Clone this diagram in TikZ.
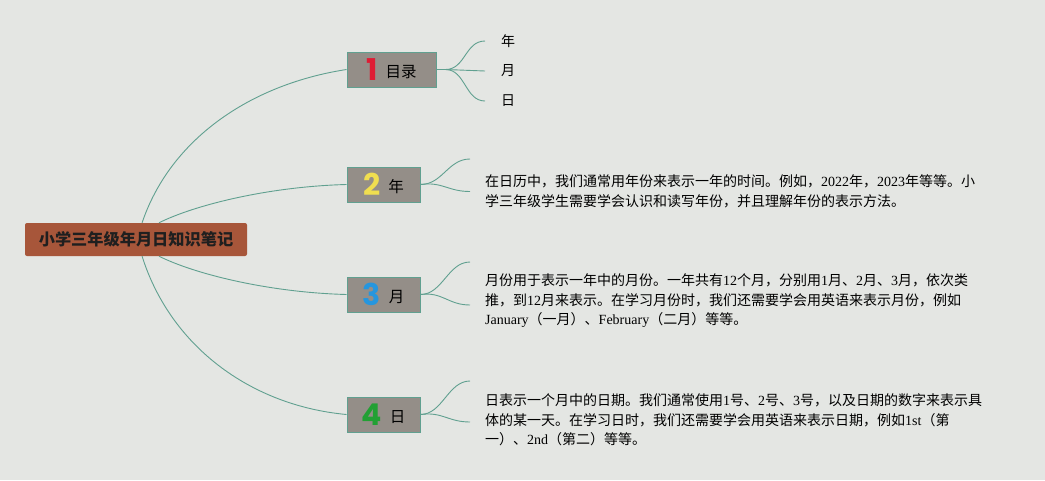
\documentclass[tikz,border=0pt]{standalone}
\usepackage{fontspec}
\setmainfont{Noto Sans CJK SC}
\newfontfamily\latfont{Liberation Serif}
\newfontfamily\numfont{Poppins}
\definecolor{PageColor}{RGB}{228,230,227}
\definecolor{RootColor}{RGB}{167,86,58}
\definecolor{TopicColor}{RGB}{148,142,136}
\definecolor{LinkColor}{RGB}{96,160,144}
\definecolor{OneColor}{RGB}{222,28,52}
\definecolor{TwoColor}{RGB}{240,222,80}
\definecolor{ThreeColor}{RGB}{38,150,222}
\definecolor{FourColor}{RGB}{34,160,52}
\usetikzlibrary{positioning}
\newcommand{\numtag}[2]{\raisebox{-1.5pt}{\numfont\bfseries\fontsize{30}{30}\selectfont\color{#1}#2}}
\newcommand{\toptext}[1]{\raisebox{1.5pt}{#1}}

\begin{document}
\begin{tikzpicture}[x=1pt,y=-1pt,
    rootbox/.style={fill=RootColor, rounded corners=2pt, minimum width=222pt, minimum height=33pt,
      inner sep=0pt, text=black!88, font=\fontsize{16.2}{16.2}\selectfont\bfseries},
    topicbox/.style={draw=LinkColor, fill=TopicColor, line width=1pt, minimum width=73pt,
      minimum height=35pt, inner sep=0pt, font=\fontsize{15.5}{15.5}\selectfont},
    link/.style={draw=LinkColor, line width=0.9pt},
    leaf/.style={anchor=west, inner xsep=16pt, inner ysep=2pt, font=\fontsize{14}{14}\selectfont},
    note/.style={anchor=west, align=left, inner xsep=15pt, inner ysep=0pt,
      font=\fontsize{14}{19.5}\selectfont}]
  \fill[PageColor] (0,0) rectangle (1045,480);

  % central topic and the four branches
  \node[rootbox] (root) at (136,239.5) {小学三年级年月日知识笔记};
  \node[topicbox, minimum width=89pt] (b1) at (391.5,69.5) {\numtag{OneColor}{1}\hspace{8pt}\toptext{目录}};
  \node[topicbox] (b2) at (383.5,184.5) {\numtag{TwoColor}{2}\hspace{8pt}\toptext{年}};
  \node[topicbox] (b3) at (383.5,294.5) {\numtag{ThreeColor}{3}\hspace{8pt}\toptext{月}};
  \node[topicbox] (b4) at (383.5,414.5) {\numtag{FourColor}{4}\hspace{8pt}\toptext{日}};

  \draw[link] (root.70) .. controls +(28,-83) and +(-97,15) .. (b1.west);
  \draw[link] (root.36) .. controls +(36,-18) and +(-77,2) .. (b2.west);
  \draw[link] (root.-36) .. controls +(36,18) and +(-77,-2) .. (b3.west);
  \draw[link] (root.-70) .. controls +(28,89) and +(-97,-9) .. (b4.west);

  % branch 1
  \node[leaf] (y1) at (485,41) {年};
  \node[leaf] (m1) at (485,71) {月};
  \node[leaf] (d1) at (485,101) {日};
  \coordinate[right=9pt of b1] (s1);
  \draw[link] (b1.east) -- (s1);
  \draw[link] (s1) .. controls +(20,0) and +(-20,0) .. (y1.west);
  \draw[link] (s1) -- (m1.west);
  \draw[link] (s1) .. controls +(20,0) and +(-20,0) .. (d1.west);

  % branch 2
  \node[note] (t2) at (470,191.5) {在日历中，我们通常用年份来表示一年的时间。例如，{\latfont 2022}年，{\latfont 2023}年等等。小\\
    学三年级学生需要学会认识和读写年份，并且理解年份的表示方法。};
  \coordinate (e2) at (470,159);
  \draw[link] (b2.east) .. controls +(22,0) and +(-22,0) .. (e2);
  \draw[link] (b2.east) .. controls +(22,-3) and +(-22,0) .. (t2.west);

  % branch 3
  \node[note] (t3) at (470,301) {月份用于表示一年中的月份。一年共有{\latfont 12}个月，分别用{\latfont 1}月、{\latfont 2}月、{\latfont 3}月，依次类\\
    推，到{\latfont 12}月来表示。在学习月份时，我们还需要学会用英语来表示月份，例如\\
    {\latfont January}（一月）、{\latfont February}（二月）等等。};
  \coordinate (e3) at (470,262);
  \draw[link] (b3.east) .. controls +(22,0) and +(-22,0) .. (e3);
  \draw[link] (b3.east) .. controls +(22,-3) and +(-22,0) .. ([yshift=-4pt]t3.west);

  % branch 4
  \node[note] (t4) at (470,420) {日表示一个月中的日期。我们通常使用{\latfont 1}号、{\latfont 2}号、{\latfont 3}号，以及日期的数字来表示具\\
    体的某一天。在学习日时，我们还需要学会用英语来表示日期，例如{\latfont 1st}（第\\
    一）、{\latfont 2nd}（第二）等等。};
  \coordinate (e4) at (470,381);
  \draw[link] (b4.east) .. controls +(22,0) and +(-22,0) .. (e4);
  \draw[link] (b4.east) .. controls +(22,-3) and +(-22,0) .. ([yshift=-2pt]t4.west);
\end{tikzpicture}
\end{document}
